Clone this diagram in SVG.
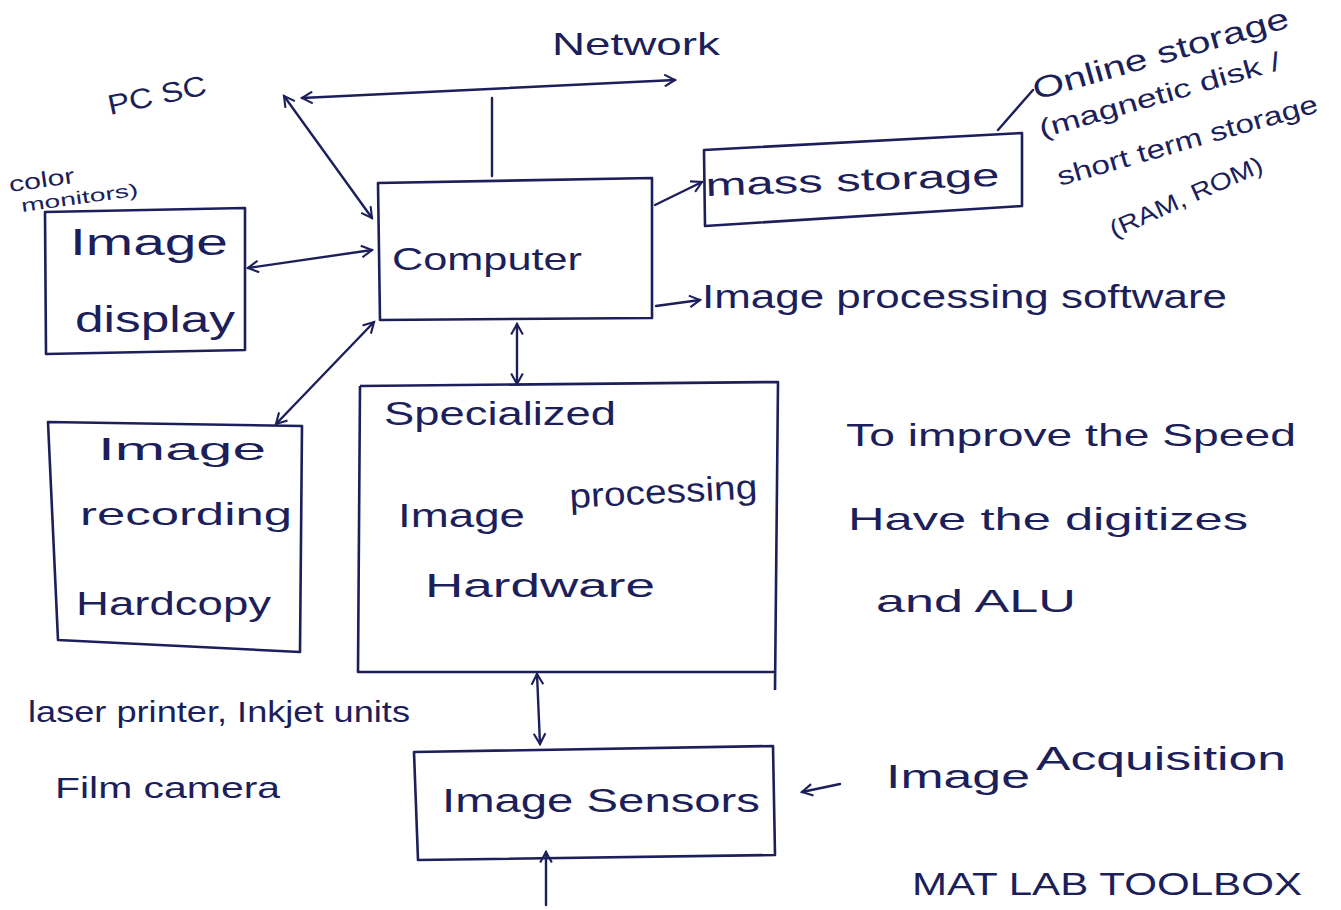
<svg xmlns="http://www.w3.org/2000/svg" width="1341" height="910" viewBox="0 0 1341 910">
<style>
.t{font-family:"Liberation Sans","DejaVu Sans",sans-serif;fill:#1c1f5a}
.box{fill:none;stroke:#1c1f5a;stroke-width:2.6;stroke-linejoin:round}
.ln{fill:none;stroke:#1c1f5a;stroke-width:2.4;stroke-linecap:round}
</style>
<defs>
<marker id="ah" viewBox="0 0 12 12" refX="10" refY="6" markerWidth="14" markerHeight="14" markerUnits="userSpaceOnUse" orient="auto-start-reverse">
<path d="M1,1 L10,6 L1,11" fill="none" stroke="#1c1f5a" stroke-width="1.8"/>
</marker>
</defs>
<rect width="1341" height="910" fill="#ffffff"/>

<g id="connectors">
<path class="ln" d="M302,98 L675,80" marker-start="url(#ah)" marker-end="url(#ah)"/>
<path class="ln" d="M492,176 L492,98"/>
<path class="ln" d="M372,218 L284,96" marker-start="url(#ah)" marker-end="url(#ah)"/>
<path class="ln" d="M248,268 L372,250" marker-start="url(#ah)" marker-end="url(#ah)"/>
<path class="ln" d="M276,424 L374,322" marker-start="url(#ah)" marker-end="url(#ah)"/>
<path class="ln" d="M517,324 L517,384" marker-start="url(#ah)" marker-end="url(#ah)"/>
<path class="ln" d="M655,205 L702,182" marker-end="url(#ah)"/>
<path class="ln" d="M998,130 L1033,90"/>
<path class="ln" d="M656,306 L700,300" marker-end="url(#ah)"/>
<path class="ln" d="M537,674 L540,744" marker-start="url(#ah)" marker-end="url(#ah)"/>
<path class="ln" d="M546,905 L546,852" marker-end="url(#ah)"/>
<path class="ln" d="M840,784 L802,792" marker-end="url(#ah)"/>
</g>

<g id="computer">
<path class="box" d="M378,183 L652,178 L652,318 L380,320 Z"/>
<text class="t" x="392" y="270" font-size="32" textLength="190" lengthAdjust="spacingAndGlyphs">Computer</text>
</g>

<g id="image-display">
<path class="box" d="M45,212 L245,208 L245,350 L46,354 Z"/>
<text class="t" x="70" y="255" font-size="36" textLength="158" lengthAdjust="spacingAndGlyphs">Image</text>
<text class="t" x="75" y="332" font-size="36" textLength="160" lengthAdjust="spacingAndGlyphs">display</text>
</g>

<g id="image-recording">
<path class="box" d="M48,422 L302,426 L300,652 L58,640 Z"/>
<text class="t" x="98" y="460" font-size="32" textLength="168" lengthAdjust="spacingAndGlyphs">Image</text>
<text class="t" x="80" y="525" font-size="32" textLength="212" lengthAdjust="spacingAndGlyphs">recording</text>
<text class="t" x="76" y="615" font-size="34" textLength="195" lengthAdjust="spacingAndGlyphs">Hardcopy</text>
</g>

<g id="specialized-hardware">
<path class="box" d="M360,386 L778,382 L775,690 M360,386 L358,672 L775,672"/>
<text class="t" x="384" y="425" font-size="34" textLength="232" lengthAdjust="spacingAndGlyphs">Specialized</text>
<text class="t" x="398" y="527" font-size="34" textLength="127" lengthAdjust="spacingAndGlyphs">Image</text>
<text class="t" x="570" y="508" font-size="34" transform="rotate(-3 570 508)" textLength="188" lengthAdjust="spacingAndGlyphs">processing</text>
<text class="t" x="425" y="597" font-size="34" textLength="230" lengthAdjust="spacingAndGlyphs">Hardware</text>
</g>

<g id="mass-storage">
<path class="box" d="M704,150 L1022,133 L1022,206 L705,226 Z"/>
<text class="t" x="706" y="196" font-size="32" transform="rotate(-2 706 196)" textLength="294" lengthAdjust="spacingAndGlyphs">mass storage</text>
</g>

<g id="image-sensors">
<path class="box" d="M414,752 L773,746 L775,855 L418,860 Z"/>
<text class="t" x="442" y="812" font-size="34" textLength="318" lengthAdjust="spacingAndGlyphs">Image Sensors</text>
</g>

<g id="labels">
<text class="t" x="552" y="55" font-size="32" textLength="168" lengthAdjust="spacingAndGlyphs">Network</text>
<text class="t" x="110" y="115" font-size="28" transform="rotate(-12 110 115)" textLength="100" lengthAdjust="spacingAndGlyphs">PC SC</text>
<text class="t" x="10" y="192" font-size="22" transform="rotate(-8 10 192)" textLength="66" lengthAdjust="spacingAndGlyphs">color</text>
<text class="t" x="22" y="212" font-size="18" transform="rotate(-8 22 212)" textLength="118" lengthAdjust="spacingAndGlyphs">monitors)</text>
<text class="t" x="1036" y="100" font-size="30" transform="rotate(-16 1036 100)" textLength="265" lengthAdjust="spacingAndGlyphs">Online storage</text>
<text class="t" x="1042" y="138" font-size="26" transform="rotate(-16 1042 138)" textLength="250" lengthAdjust="spacingAndGlyphs">(magnetic disk /</text>
<text class="t" x="1060" y="186" font-size="26" transform="rotate(-16 1060 186)" textLength="270" lengthAdjust="spacingAndGlyphs">short term storage</text>
<text class="t" x="1114" y="238" font-size="24" transform="rotate(-24 1114 238)" textLength="165" lengthAdjust="spacingAndGlyphs">(RAM, ROM)</text>
<text class="t" x="702" y="308" font-size="34" textLength="525" lengthAdjust="spacingAndGlyphs">Image processing software</text>
<text class="t" x="846" y="446" font-size="32" textLength="450" lengthAdjust="spacingAndGlyphs">To improve the Speed</text>
<text class="t" x="848" y="530" font-size="32" textLength="400" lengthAdjust="spacingAndGlyphs">Have the digitizes</text>
<text class="t" x="876" y="612" font-size="32" textLength="200" lengthAdjust="spacingAndGlyphs">and ALU</text>
<text class="t" x="28" y="722" font-size="30" textLength="382" lengthAdjust="spacingAndGlyphs">laser printer, Inkjet units</text>
<text class="t" x="55" y="798" font-size="30" textLength="225" lengthAdjust="spacingAndGlyphs">Film camera</text>
<text class="t" x="886" y="788" font-size="34" textLength="144" lengthAdjust="spacingAndGlyphs">Image</text>
<text class="t" x="1036" y="770" font-size="34" textLength="250" lengthAdjust="spacingAndGlyphs">Acquisition</text>
<text class="t" x="912" y="895" font-size="32" textLength="390" lengthAdjust="spacingAndGlyphs">MAT LAB TOOLBOX</text>
</g>
</svg>
